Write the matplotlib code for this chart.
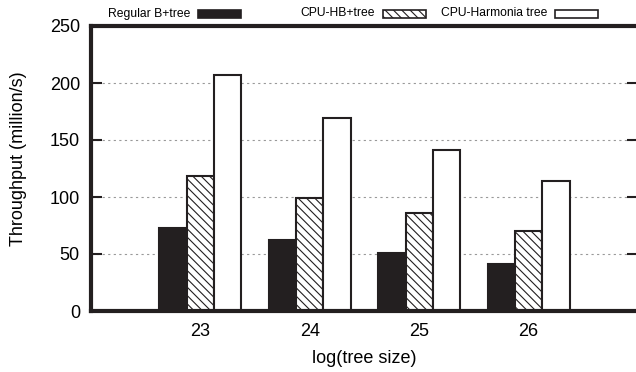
import numpy as np
import matplotlib
matplotlib.use("Agg")
import matplotlib.pyplot as plt
import matplotlib.patches as mpatches

plt.rcParams["font.family"] = ["Liberation Sans", "DejaVu Sans"]
plt.rcParams["hatch.linewidth"] = 0.8
plt.rcParams["hatch.color"] = "#231f20"

INK = "#231f20"

tree_sizes = [23, 24, 25, 26]
series_names = ["Regular B+tree", "CPU-HB+tree", "CPU-Harmonia tree"]
regular_btree = [73, 62, 51, 41]
cpu_hbtree = [118, 99, 86, 70]
cpu_harmonia = [207, 169, 141, 114]

BAR_W = 0.25
STYLES = [
    dict(facecolor=INK, hatch=None),
    dict(facecolor="white", hatch="\\\\\\\\"),
    dict(facecolor="white", hatch=None),
]

fig = plt.figure(figsize=(6.36, 3.72), dpi=100)
ax = fig.add_axes([91 / 636, 61 / 372, 547 / 636, 285 / 372])

x = np.array(tree_sizes, dtype=float)
for k, vals in enumerate([regular_btree, cpu_hbtree, cpu_harmonia]):
    st = STYLES[k]
    ax.bar(x + (k - 1) * BAR_W, vals, width=BAR_W, facecolor=st["facecolor"],
           edgecolor=INK, linewidth=1.5, hatch=st["hatch"], zorder=3)

ax.set_xlim(22, 27)
ax.set_ylim(0, 250)
ax.set_xticks(tree_sizes)
ax.set_yticks([0, 50, 100, 150, 200, 250])
ax.tick_params(axis="y", direction="in", length=8, width=1.5, color=INK,
               right=True, labelsize=13, pad=8)
ax.tick_params(axis="x", length=0, labelsize=13, pad=9)

for v in [50, 100, 150, 200]:
    ax.axhline(v, color="#999999", lw=0.8, ls=(0, (2, 3)), zorder=1)

for sp in ax.spines.values():
    sp.set_linewidth(3)
    sp.set_color(INK)
    sp.set_zorder(4)

ax.set_xlabel("log(tree size)", fontsize=13, labelpad=7)
ax.set_ylabel("Throughput (million/s)", fontsize=13)
ax.yaxis.set_label_coords(-0.117, 0.533)

# key along the top edge: text right-aligned before each sample box
key_text_right = [190, 375, 547]
for name, tx, st in zip(series_names, key_text_right, STYLES):
    fig.text(tx / 636, 1 - 13.5 / 372, name, ha="right", va="center", fontsize=8.7)
    box = mpatches.Rectangle(((tx + 8) / 636, 1 - 18 / 372), 43 / 636, 8 / 372,
                             transform=fig.transFigure, facecolor=st["facecolor"],
                             edgecolor=INK, linewidth=1.2, hatch=st["hatch"])
    fig.patches.append(box)

fig.savefig("out.png", dpi=100)
